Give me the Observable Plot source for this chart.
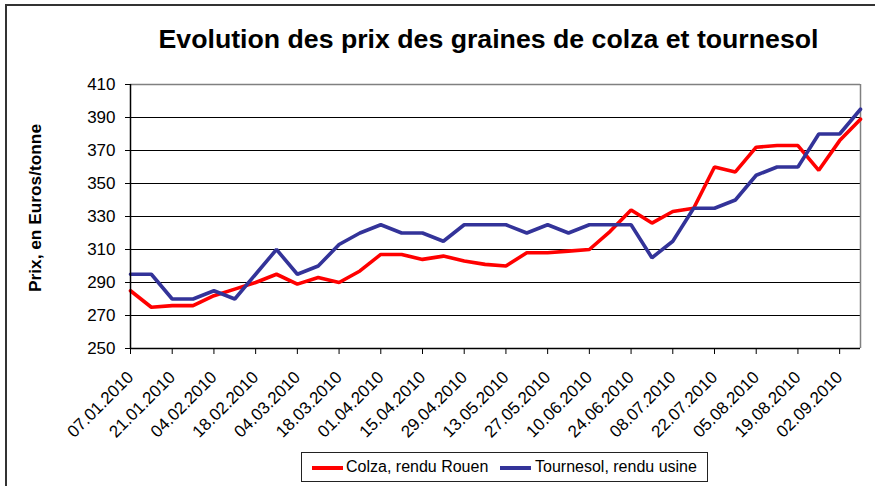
<!DOCTYPE html>
<html>
<head>
<meta charset="utf-8">
<script src="https://cdn.jsdelivr.net/npm/d3@7"></script>
<script src="https://cdn.jsdelivr.net/npm/@observablehq/plot@0.6"></script>
<style>
  html, body { margin: 0; padding: 0; background: #fff; overflow: hidden; }
  #wrap { position: relative; width: 875px; height: 486px; overflow: hidden; font-family: "Liberation Sans", Arial, sans-serif; }
  #chart { position: absolute; left: 0; top: 0; }
  #title { position: absolute; left: 488.5px; top: 26.4px; transform: translateX(-50%); font-size: 26.7px; font-weight: bold; line-height: 1; white-space: nowrap; color: #000; }
  #ylabel { position: absolute; left: 36px; top: 208px; transform: translate(-50%, -50%) rotate(-90deg); font-size: 17.3px; font-weight: bold; white-space: nowrap; color: #000; line-height: 1; }
  #legend { position: absolute; left: 301px; top: 452px; width: 405px; height: 28px; border: 1.5px solid #222; background: #fff; }
  .sw { position: absolute; height: 4px; top: 13px; width: 31px; }
  .lt { position: absolute; top: 5px; font-size: 16px; line-height: 1.1; white-space: nowrap; color: #000; }
  #frame { position: absolute; left: 5px; top: 4px; width: 900px; height: 600px; border: 2px solid #333; pointer-events: none; }
</style>
</head>
<body>
<div id="wrap">
  <div id="chart"></div>
  <div id="title"></div>
  <div id="ylabel"></div>
  <div id="legend"></div>
  <div id="frame"></div>
</div>
<script>
const titleText = "Evolution des prix des graines de colza et tournesol";
const yLabel = "Prix, en Euros/tonne";
const seriesNames = ["Colza, rendu Rouen", "Tournesol, rendu usine"];
const seriesColors = ["#FF0000", "#333399"];

const dates = [
  "07.01.2010","14.01.2010","21.01.2010","28.01.2010","04.02.2010","11.02.2010",
  "18.02.2010","25.02.2010","04.03.2010","11.03.2010","18.03.2010","25.03.2010",
  "01.04.2010","08.04.2010","15.04.2010","22.04.2010","29.04.2010","06.05.2010",
  "13.05.2010","20.05.2010","27.05.2010","03.06.2010","10.06.2010","17.06.2010",
  "24.06.2010","01.07.2010","08.07.2010","15.07.2010","22.07.2010","29.07.2010",
  "05.08.2010","12.08.2010","19.08.2010","26.08.2010","02.09.2010","09.09.2010"
];
const colza = [
  285, 275, 276, 276, 282, 286, 290, 295, 289, 293, 290, 297,
  307, 307, 304, 306, 303, 301, 300, 308, 308, 309, 310, 321,
  334, 326, 333, 335, 360, 357, 372, 373, 373, 358, 376, 389
];
const tournesol = [
  295, 295, 280, 280, 285, 280, 295, 310, 295, 300, 313, 320,
  325, 320, 320, 315, 325, 325, 325, 320, 325, 320, 325, 325,
  325, 305, 315, 335, 335, 340, 355, 360, 360, 380, 380, 395
];
const yTicks = [250, 270, 290, 310, 330, 350, 370, 390, 410];
const xTickLabels = dates.filter((d, i) => i % 2 === 0);

const parse = d3.utcParse("%d.%m.%Y");
const fmt = d3.utcFormat("%d.%m.%Y");
const rows = (vals, name) => dates.map((d, i) => ({date: parse(d), value: vals[i], series: name}));
const colzaData = rows(colza, seriesNames[0]);
const tournData = rows(tournesol, seriesNames[1]);
const xStart = parse(dates[0]), xEnd = parse(dates[dates.length - 1]);
const xTicks = xTickLabels.map(parse);

const chart = Plot.plot({
  width: 875,
  height: 486,
  marginLeft: 130,
  marginRight: 15,
  marginTop: 84,
  marginBottom: 138,
  style: {fontFamily: "'Liberation Sans', Arial, sans-serif", background: "transparent", color: "#000"},
  x: {type: "utc", domain: [xStart, xEnd]},
  y: {domain: [250, 410]},
  marks: [
    Plot.ruleY(yTicks.slice(1, -1), {stroke: "#000", strokeWidth: 1}),
    Plot.ruleY([410], {stroke: "#808080", strokeWidth: 1.5}),
    Plot.ruleX([xEnd], {stroke: "#808080", strokeWidth: 1.5}),
    Plot.line(colzaData, {x: "date", y: "value", stroke: seriesColors[0], strokeWidth: 3.6, strokeLinejoin: "miter"}),
    Plot.line(tournData, {x: "date", y: "value", stroke: seriesColors[1], strokeWidth: 3.6, strokeLinejoin: "miter"}),
    Plot.ruleX([xStart], {stroke: "#000", strokeWidth: 1.5}),
    Plot.ruleY([250], {stroke: "#000", strokeWidth: 1.5}),
    Plot.axisY(yTicks, {tickSize: 5, tickPadding: 10, fontSize: 17, stroke: "#000", strokeWidth: 1, label: null}),
    Plot.axisX(xTicks, {tickSize: 6, tickPadding: 20, tickRotate: -45, fontSize: 17, tickFormat: fmt, stroke: "#000", strokeWidth: 1, label: null})
  ]
});
document.getElementById("chart").appendChild(chart);

document.getElementById("title").textContent = titleText;
document.getElementById("ylabel").textContent = yLabel;

const legend = document.getElementById("legend");
const legendPos = [{sw: 10, tx: 44}, {sw: 198, tx: 233}];
seriesNames.forEach((name, i) => {
  const sw = document.createElement("div");
  sw.className = "sw";
  sw.style.left = legendPos[i].sw + "px";
  sw.style.background = seriesColors[i];
  legend.appendChild(sw);
  const t = document.createElement("div");
  t.className = "lt";
  t.style.left = legendPos[i].tx + "px";
  t.textContent = name;
  legend.appendChild(t);
});
</script>
</body>
</html>
